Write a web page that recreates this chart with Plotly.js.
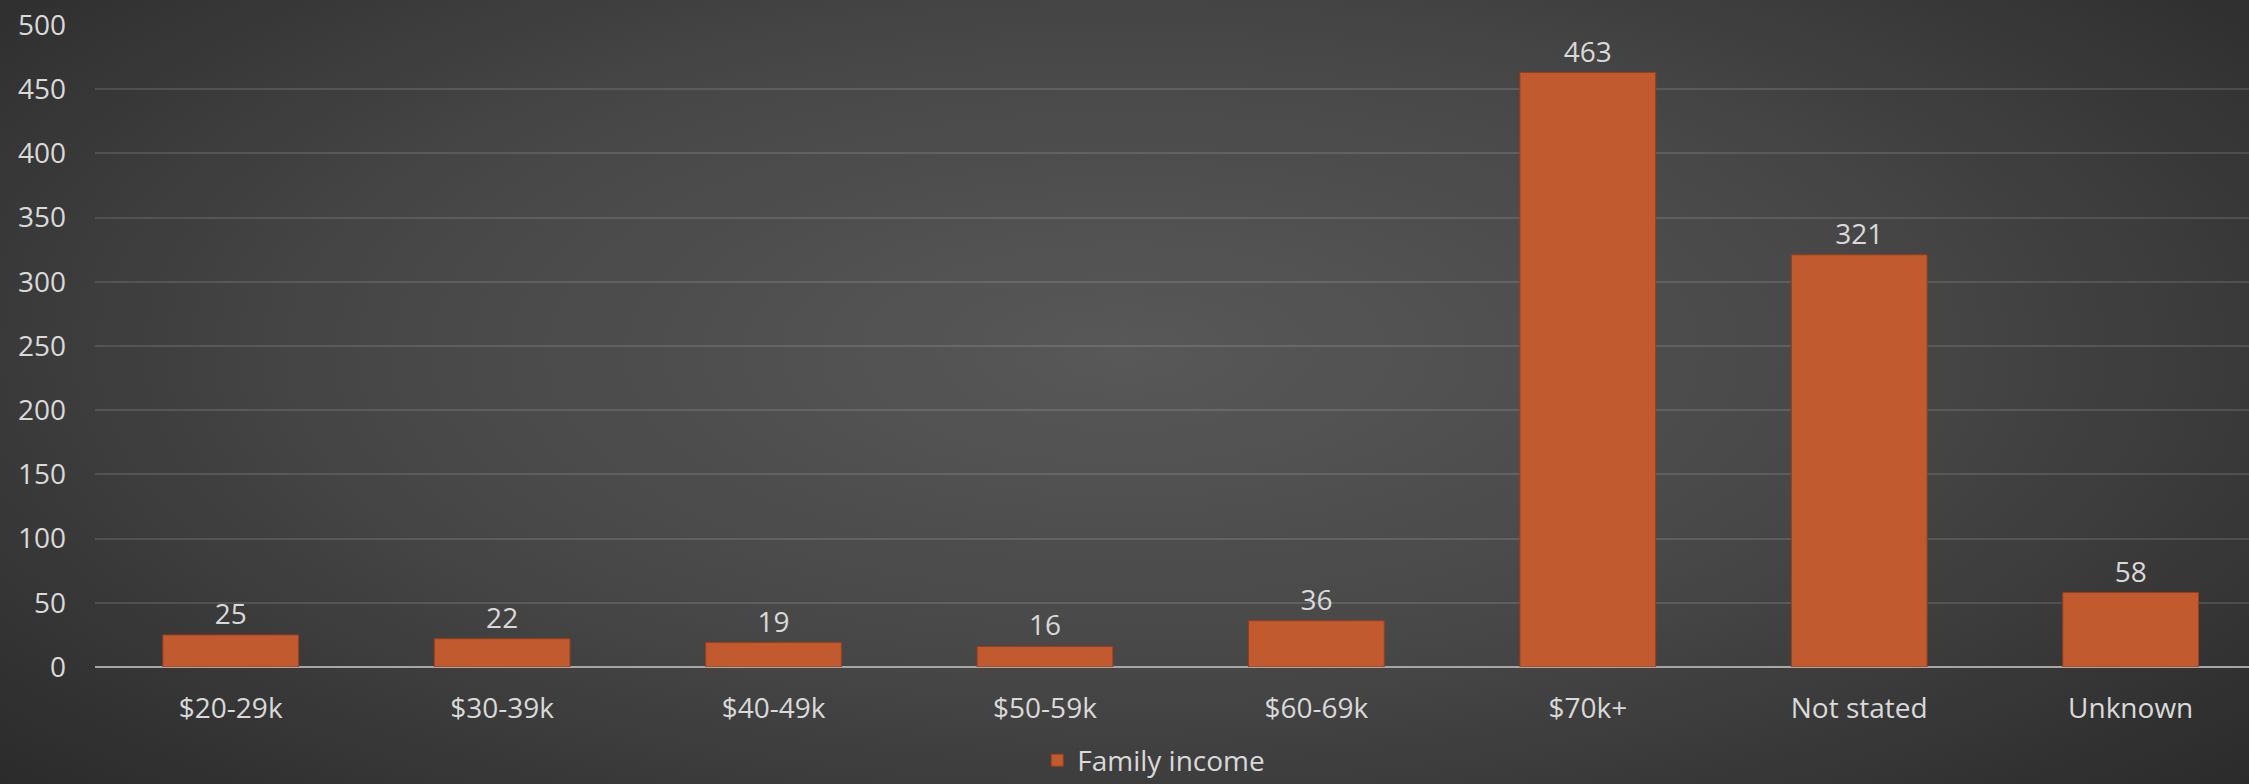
<!DOCTYPE html>
<html>
<head>
<meta charset="utf-8">
<script src="https://cdn.plot.ly/plotly-3.0.1.min.js"></script>
<style>
html,body{margin:0;padding:0;width:2249px;height:784px;overflow:hidden;
background: radial-gradient(ellipse 75% 90% at 50% 45%, #585858 0%, #474747 45%, #2e2e2e 85%, #262626 100%);}
#chart{width:2249px;height:784px;}
</style>
</head>
<body>
<div id="chart"></div>
<script>
const categories = ["$20-29k","$30-39k","$40-49k","$50-59k","$60-69k","$70k+","Not stated","Unknown"];
const familyIncome = [25,22,19,16,36,463,321,58];
const seriesName = "Family income";
const yTicks = [0,50,100,150,200,250,300,350,400,450,500];

const trace = {
  type: "bar",
  x: categories,
  y: familyIncome,
  name: seriesName,
  text: familyIncome.map(String),
  textposition: "outside",
  cliponaxis: false,
  textfont: {family: "Open Sans, Noto Sans, sans-serif", size: 28, color: "#d9d9d9"},
  marker: {color: "#c25a2f", line: {color: "#9a3e1c", width: 1}},
  showlegend: true
};

const layout = {
  width: 2249, height: 784,
  paper_bgcolor: "rgba(0,0,0,0)",
  plot_bgcolor: "rgba(0,0,0,0)",
  margin: {l: 95, r: 0, t: 25, b: 117, autoexpand: false},
  bargap: 0.5,
  font: {family: "Open Sans, Noto Sans, sans-serif", size: 28, color: "#d9d9d9"},
  xaxis: {
    type: "category",
    range: [-0.5, 7.436],
    showgrid: false,
    showline: false,
    zeroline: false,
    ticks: "",
    automargin: false,
    tickfont: {size: 28, color: "#d9d9d9"},
    ticklabelstandoff: 22
  },
  yaxis: {
    range: [0, 500],
    tickvals: yTicks,
    ticktext: yTicks.map(String),
    showgrid: true,
    automargin: false,
    gridcolor: "rgba(255,255,255,0.12)",
    gridwidth: 2,
    zeroline: true,
    zerolinecolor: "#a6a6a6",
    zerolinewidth: 2,
    showline: false,
    ticks: "",
    tickfont: {size: 28, color: "#d9d9d9"},
    ticklabelstandoff: 28
  },
  showlegend: true,
  legend: {
    orientation: "h",
    xref: "container", yref: "container",
    x: 0.513, xanchor: "center",
    y: 0.03, yanchor: "middle",
    font: {size: 28, color: "#d9d9d9"},
    bgcolor: "rgba(0,0,0,0)",
    itemwidth: 30
  }
};

Plotly.newPlot("chart", [trace], layout, {displayModeBar: false, staticPlot: true});
</script>
</body>
</html>
